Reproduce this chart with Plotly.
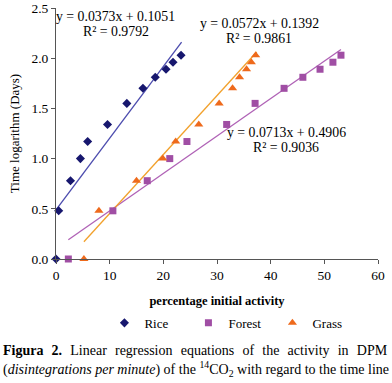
import numpy as np
import plotly.graph_objects as go

# Data
log_days = [0.0, 0.48, 0.78, 1.0, 1.17, 1.34, 1.55, 1.70, 1.81, 1.89, 1.96, 2.03]
rice_x = [0.0, 0.5, 2.7, 4.55, 5.9, 9.6, 13.2, 16.2, 18.5, 20.5, 21.8, 23.3]
forest_x = [2.3, 10.6, 17.0, 21.2, 24.4, 31.8, 37.1, 42.5, 46.0, 49.2, 51.6, 53.1]
grass_x = [5.2, 8.0, 15.0, 19.9, 22.3, 26.6, 30.4, 32.9, 34.2, 35.5, 36.4, 37.2]

# trend lines as drawn: slope, intercept, x range
rice_fit = (0.0713, 0.4906, 0.0, 23.4)
forest_fit = (0.0373, 0.1051, 2.3, 53.1)
grass_fit = (0.0587, -0.133, 5.2, 37.4)

labels = [
    ("y = 0.0373x + 0.1051", "R² = 0.9792", 115.5, 16),
    ("y = 0.0572x + 0.1392", "R² = 0.9861", 259, 23),
    ("y = 0.0713x + 0.4906", "R² = 0.9036", 286, 132),
]

FONT = "Liberation Serif, Times New Roman, serif"
fig = go.Figure()

series = [
    ("Rice", rice_x, "#17176e", "diamond", 7, rice_fit, "#4c4cae"),
    ("Forest", forest_x, "#a04ea4", "square", 7, forest_fit, "#b062b6"),
    ("Grass", grass_x, "#ee6a1c", "triangle-up", 8, grass_fit, "#f2a12c"),
]
for name, xs, col, sym, sz, fit, lcol in series:
    m, b, x0, x1 = fit
    lx = np.array([x0, x1])
    fig.add_trace(go.Scatter(x=lx, y=m * lx + b, mode="lines",
                             line=dict(color=lcol, width=1.3),
                             showlegend=False, hoverinfo="skip"))
for name, xs, col, sym, sz, fit, lcol in series:
    fig.add_trace(go.Scatter(x=xs, y=log_days, mode="markers", name=name,
                             marker=dict(color=col, symbol=sym, size=sz,
                                         line=dict(width=0)),
                             cliponaxis=False))

L, T, B, R = 55.5, 7.7, 124, 14
W, H = 392, 383
ph = H - T - B
pw = W - L - R

def px(xp):
    return (xp - L) / pw

def py(yp):
    return (H - B - yp) / ph

anns = []
for eq, r2, cx, cy in labels:
    anns.append(dict(x=px(cx), y=py(cy), xref="paper", yref="paper",
                     xanchor="center", yanchor="middle",
                     text=eq, showarrow=False, font=dict(family=FONT, size=13.8, color="#000")))
    anns.append(dict(x=px(cx), y=py(cy + 15.5), xref="paper", yref="paper",
                     xanchor="center", yanchor="middle",
                     text=r2, showarrow=False, font=dict(family=FONT, size=13.8, color="#000")))

gap = "\u00a0\u2006\u2006"
line1_words = ["<b>Figura", "2.</b>", "Linear", "regression", "equations", "of", "the", "activity", "in", "DPM"]
anns.append(dict(x=px(0), y=py(351), xref="paper", yref="paper", xanchor="left", yanchor="middle",
                 text=gap.join(line1_words),
                 showarrow=False, font=dict(family=FONT, size=14, color="#000")))
anns.append(dict(x=px(0), y=py(369), xref="paper", yref="paper", xanchor="left", yanchor="middle",
                 text="(<i>disintegrations per minute</i>) of the <sup>14</sup>CO<sub>2</sub> with regard to the time line",
                 showarrow=False, font=dict(family=FONT, size=14, color="#000")))

fig.update_layout(
    width=W, height=H,
    margin=dict(l=L, r=R, t=T, b=B, pad=0, autoexpand=False),
    plot_bgcolor="white", paper_bgcolor="white",
    font=dict(family=FONT, size=13.5, color="#000"),
    annotations=anns,
    showlegend=True,
    legend=dict(orientation="h", x=px(104), xanchor="left", y=py(323), yanchor="middle",
                font=dict(family=FONT, size=13, color="#000"),
                itemwidth=30, entrywidth=39, entrywidthmode="pixels",
                bgcolor="rgba(0,0,0,0)"),
    xaxis=dict(range=[0, 60], dtick=10, showgrid=False, zeroline=False, automargin=False,
               showline=True, linecolor="#555", linewidth=1,
               ticks="outside", ticklen=4, tickcolor="#555",
               title=dict(text="<b>percentage initial activity</b>", font=dict(family=FONT, size=12.5), standoff=14)),
    yaxis=dict(range=[0, 2.5], dtick=0.5, tickformat=".1f", showgrid=False, zeroline=False, automargin=False,
               showline=True, linecolor="#555", linewidth=1,
               ticks="outside", ticklen=4, tickcolor="#555",
               title=dict(text="Time logarithm (Days)", font=dict(family=FONT, size=13), standoff=8)),
)

fig.write_html("out.html", post_script="document.body.style.margin='0';",
               config={"displayModeBar": False})
